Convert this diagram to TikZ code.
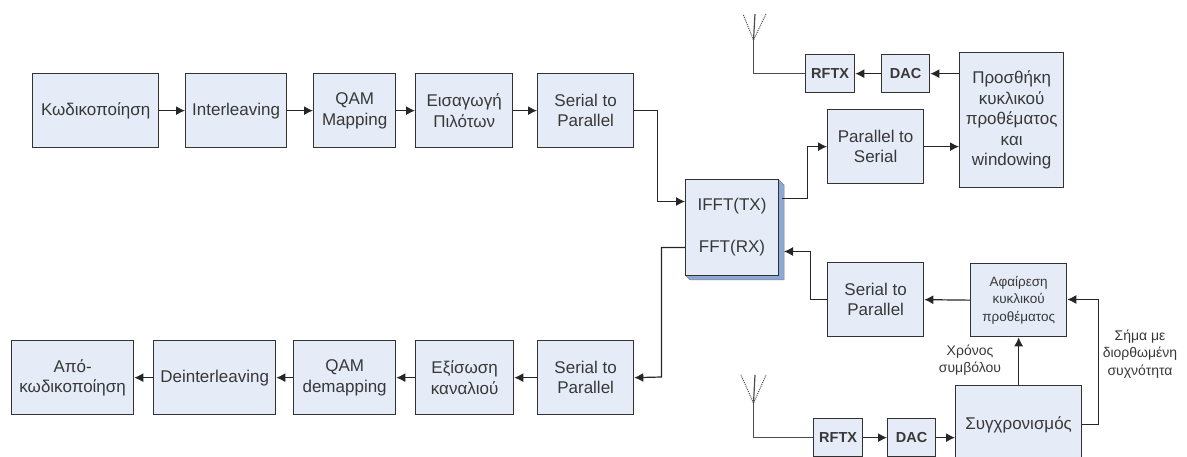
\documentclass[tikz,border=0pt]{standalone}
\usepackage{fontspec}
\setmainfont{Liberation Sans}
\usetikzlibrary{arrows.meta}
\definecolor{boxfill}{RGB}{230,236,247}
\definecolor{boxline}{RGB}{50,50,50}
\definecolor{shadowblue}{RGB}{140,168,212}
\tikzset{
  x=1pt,y=-1pt,
  blockbox/.style={draw=boxline,fill=boxfill,line width=1.3pt,align=center,inner sep=0pt,font=\fontsize{17}{20.5}\selectfont,text=black!78},
  smallbox/.style={blockbox,font=\fontsize{13.5}{17.5}\selectfont},
  boldbox/.style={blockbox,font=\bfseries\fontsize{14.5}{16}\selectfont},
  fftlabel/.style={inner sep=0pt,font=\fontsize{17}{20}\selectfont,text=black!78},
  conn/.style={draw=black!85,line width=1.2pt,-{Latex[length=9pt,width=9pt]}},
  plainconn/.style={draw=black!70,line width=1.2pt},
  dipole/.style={draw=black!70,line width=1pt,densely dotted},
  lab/.style={font=\fontsize{14}{17.5}\selectfont,align=center,text=black!78}
}
\newcommand{\blk}[7][blockbox]{% style, name, x0,y0,x1,y1,text
  \node[#1,minimum width=#5pt-#3pt,minimum height=#6pt-#4pt,anchor=north west] (#2) at (#3,#4) {#7};}
\begin{document}
\begin{tikzpicture}
\useasboundingbox (0,0) rectangle (1187,457);
\blk{kod}{32}{73}{158}{147}{Κωδικοποίηση}
\blk{inter}{185}{73}{286}{147}{Interleaving}
\blk{qam}{313}{73}{395}{147}{QAM\\Mapping}
\blk{eis}{415}{73}{512}{147}{Εισαγωγή\\Πιλότων}
\blk{spa}{537}{73}{633}{147}{Serial to\\Parallel}
\fill[shadowblue,draw=boxline!60,line width=0.5pt,line join=round] (778,179) -- (784,185) -- (784,280) -- (690,280) -- (685,275) -- cycle;
\node[blockbox,minimum width=93pt,minimum height=96pt,anchor=north west] (fft) at (685,179) {};
\coordinate (fftin) at (685,201.5);
\coordinate (fftout) at (782,198.5);
\coordinate (fftrx) at (784,251.5);
\coordinate (fftl) at (685,247.5);
\node[fftlabel] (ifftt) at (732,206.5) {IFFT(TX)};
\node[fftlabel] (ffttt) at (732,248) {FFT(RX)};
\blk{p2s}{827}{109}{923}{183}{Parallel to\\Serial}
\blk{pro}{959}{52}{1063}{187}{Προσθήκη\\κυκλικού\\προθέματος\\και\\windowing}
\blk[boldbox]{rf1}{805}{54}{854}{92}{RFTX}
\blk[boldbox]{dac1}{881}{54}{929}{92}{DAC}
\blk{s2p}{827}{262}{923}{336}{Serial to\\Parallel}
\blk[smallbox]{afa}{970}{263}{1066}{336}{Αφαίρεση\\κυκλικού\\προθέματος}
\blk{syn}{955}{385}{1081}{463}{Συγχρονισμός}
\blk[boldbox]{rf2}{813}{418}{862}{456}{RFTX}
\blk[boldbox]{dac2}{887}{418}{935}{456}{DAC}
\blk{ser}{537}{340}{633}{414}{Serial to\\Parallel}
\blk{exi}{415}{340}{513}{414}{Εξίσωση\\καναλιού}
\blk{dem}{293}{340}{395}{414}{QAM\\demapping}
\blk{dei}{153}{340}{275}{414}{Deinterleaving}
\blk{apo}{11}{340}{133}{414}{Από-\\κωδικοποίηση}
\draw[conn] (kod) -- (inter);
\draw[conn] (inter) -- (qam);
\draw[conn] (qam) -- (eis);
\draw[conn] (eis) -- (spa);
\coordinate (bendA) at (657.5,201.5);
\draw[conn] (spa.east) -| (bendA) -- (fftin);
\coordinate (bendB) at (807.5,198.5);
\draw[conn] (fftout) -- (bendB) |- (p2s.west);
\draw[conn] (p2s) -- (p2s.east -| pro.west);
\draw[conn] (pro.west |- dac1) -- (dac1);
\draw[conn] (dac1) -- (rf1);
\coordinate (tip1) at (753.5,40);
\coordinate (ant1) at (rf1.west -| tip1);
\draw[plainconn] (rf1.west) -- (ant1) -- (tip1);
\coordinate (a1a) at (755,14); \coordinate (a1b) at (743,14); \coordinate (a1c) at (766,14);
\draw[plainconn] (tip1) -- (a1a);
\draw[dipole] (tip1) -- (a1b) (tip1) -- (a1c);
\coordinate (bendC) at (810.5,251.5);
\draw[conn] (s2p.west) -| (bendC) -- (fftrx);
\draw[conn] (afa.west) -- (s2p.east);
\draw[conn] (syn.north -| afa.south) -- (afa.south);
\coordinate (bendD) at (1098.5,299.5);
\draw[conn] (syn.east) -| (bendD) -- (afa.east |- bendD);
\draw[conn] (rf2) -- (dac2);
\draw[conn] (dac2) -- (syn.west |- dac2);
\coordinate (tip2) at (753.5,403);
\coordinate (ant2) at (rf2.west -| tip2);
\draw[plainconn] (rf2.west) -- (ant2) -- (tip2);
\coordinate (a2a) at (755,375); \coordinate (a2b) at (741,375); \coordinate (a2c) at (766,375);
\draw[plainconn] (tip2) -- (a2a);
\draw[dipole] (tip2) -- (a2b) (tip2) -- (a2c);
\coordinate (bendE) at (661.5,377);
\draw[conn] (fftl) -| (bendE) -- (ser.east);
\draw[conn] (ser) -- (exi);
\draw[conn] (exi) -- (dem);
\draw[conn] (dem) -- (dei);
\draw[conn] (dei) -- (apo);
\node[lab] (l1) at (970,360) {Χρόνος\\συμβόλου};
\node[lab] (l2) at (1140,354) {Σήμα με\\διορθωμένη\\συχνότητα};
\end{tikzpicture}
\end{document}
